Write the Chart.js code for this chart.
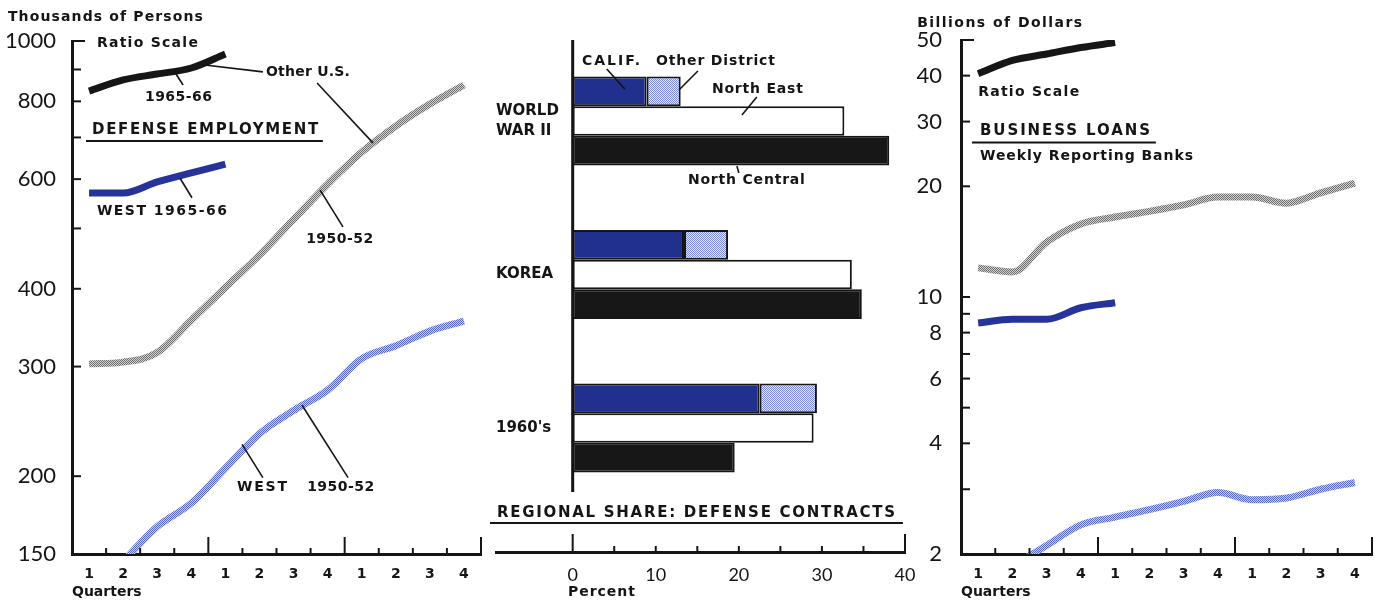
<!DOCTYPE html>
<html>
<head>
<meta charset="utf-8">
<script src="https://cdn.jsdelivr.net/npm/chart.js@4.4.0/dist/chart.umd.min.js"></script>
<style>
  html, body { margin: 0; padding: 0; background: #fff; }
  #wrap { position: relative; width: 1379px; height: 605px; }
  #wrap canvas { position: absolute; left: 0; top: 0; }
</style>
</head>
<body>
<div id="wrap">
  <canvas id="employment" width="1379" height="605"></canvas>
  <canvas id="contracts" width="1379" height="605"></canvas>
  <canvas id="loans" width="1379" height="605"></canvas>
</div>
<script>
// Quarters: three years on each time panel
const QUARTER_LABELS = ['1', '2', '3', '4', '1', '2', '3', '4', '1', '2', '3', '4'];
const QUARTER_BOUNDS = [1, 2, 3, 4, 5, 6, 7, 8, 9, 10, 11, 12];
const YEAR_BOUNDS = [4, 8, 12];

// Defense employment, thousands of persons (ratio scale)
const EMP_OTHER_1950 = [303, 305, 316, 356, 402, 453, 517, 589, 663, 730, 792, 850];
const EMP_WEST_1950 = [null, 146, 166, 181, 206, 234, 255, 275, 309, 324, 342, 355];
const EMP_OTHER_1965 = [831, 866, 885, 905, 953];
const EMP_WEST_1965 = [570, 570, 594, 614, 634];
const EMP_TICKS = [150, 200, 300, 400, 500, 600, 700, 800, 900, 1000];
const EMP_TICK_LABELS = [150, 200, 300, 400, 600, 800, 1000];

// Regional share of defense contracts, percent
const PERIODS = [['WORLD', 'WAR II'], 'KOREA', "1960's"];
const SHARE_CALIF = [8.9, 13.4, 22.5];
const SHARE_OTHER_DISTRICT = [4.1, 5.3, 6.9];
const SHARE_NORTH_EAST = [32.7, 33.6, 29.0];
const SHARE_NORTH_CENTRAL = [38.1, 34.8, 19.5];
const PCT_TICKS = [0, 5, 10, 15, 20, 25, 30, 35, 40];
const PCT_TICK_LABELS = [0, 10, 20, 30, 40];

// Business loans, weekly reporting banks, billions of dollars (ratio scale)
const LOAN_OTHER_1950 = [12.0, 11.7, 14.1, 15.8, 16.5, 17.1, 17.8, 18.7, 18.7, 18.0, 19.2, 20.4];
const LOAN_WEST_1950 = [null, 1.85, 2.11, 2.40, 2.52, 2.64, 2.78, 2.94, 2.81, 2.84, 3.0, 3.13];
const LOAN_OTHER_1965 = [40.5, 44.0, 45.8, 47.7, 49.2];
const LOAN_WEST_1965 = [8.5, 8.7, 8.7, 9.35, 9.65];
const LOAN_TICKS = [2, 3, 4, 5, 6, 7, 8, 9, 10, 20, 30, 40, 50];
const LOAN_TICK_LABELS = [2, 4, 6, 8, 10, 20, 30, 40, 50];

const INK = '#151515';
const LETTER_FONT = '"DejaVu Sans"';
const NUM_FONT = 'Lato';

Chart.defaults.font.family = LETTER_FONT;
Chart.defaults.color = INK;

// small checker patterns for the screened lines and bars
function stipple(dark, light) {
    const c = document.createElement('canvas');
    c.width = 2;
    c.height = 2;
    const g = c.getContext('2d');
    g.fillStyle = light;
    g.fillRect(0, 0, 2, 2);
    g.fillStyle = dark;
    g.fillRect(0, 0, 1, 1);
    g.fillRect(1, 1, 1, 1);
    return g.createPattern(c, 'repeat');
}

const GRAY_SCREEN = stipple('#6e6e6e', '#d2d2d2');
const BLUE_SCREEN = stipple('#5a6bc6', '#c4ccef');
const DISTRICT_SCREEN = stipple('#7e8dd2', '#e2e6f7');

// tick marks drawn inside the frame, as on the original
const axisMarks = {
    id: 'axisMarks',
    afterDraw(chart, args, opts) {
        const {ctx, chartArea: a, scales} = chart;
        ctx.save();
        ctx.strokeStyle = INK;
        ctx.lineWidth = 2;
        (opts.x || []).forEach(m => {
            const px = scales.x.getPixelForValue(m.value);
            ctx.beginPath();
            ctx.moveTo(px, a.bottom);
            ctx.lineTo(px, a.bottom - m.len);
            ctx.stroke();
        });
        (opts.y || []).forEach(m => {
            const py = scales.y.getPixelForValue(m.value);
            ctx.beginPath();
            ctx.moveTo(a.left, py);
            ctx.lineTo(a.left + m.len, py);
            ctx.stroke();
        });
        if (opts.stem) {
            const px = scales.x.getPixelForValue(opts.stem.x);
            ctx.lineWidth = 3;
            ctx.beginPath();
            ctx.moveTo(px, scales.y.getPixelForValue(opts.stem.from));
            ctx.lineTo(px, scales.y.getPixelForValue(opts.stem.to));
            ctx.stroke();
        }
        ctx.restore();
    }
};

// hand lettering and leader lines, placed in data units
const notes = {
    id: 'notes',
    afterDraw(chart, args, opts) {
        const {ctx, scales: {x, y}} = chart;
        ctx.save();
        ctx.strokeStyle = INK;
        ctx.fillStyle = INK;
        (opts.lines || []).forEach(l => {
            ctx.lineWidth = l.w || 1.6;
            ctx.beginPath();
            ctx.moveTo(x.getPixelForValue(l.from[0]), y.getPixelForValue(l.from[1]));
            ctx.lineTo(x.getPixelForValue(l.to[0]), y.getPixelForValue(l.to[1]));
            ctx.stroke();
        });
        ctx.textBaseline = 'middle';
        ctx.textAlign = 'left';
        (opts.labels || []).forEach(t => {
            const px = x.getPixelForValue(t.at[0]);
            const py = y.getPixelForValue(t.at[1]);
            ctx.font = 'bold ' + (t.size || 14) + 'px ' + LETTER_FONT;
            ctx.letterSpacing = '0px';
            const w = ctx.measureText(t.text).width;
            if (w > t.width) {
                ctx.save();
                ctx.translate(px, py);
                ctx.scale(t.width / w, 1);
                ctx.fillText(t.text, 0, 0);
                ctx.restore();
            } else {
                ctx.letterSpacing = ((t.width - w) / Math.max(1, t.text.length - 1)) + 'px';
                ctx.fillText(t.text, px, py);
            }
        });
        ctx.restore();
    }
};

function lineSet(values, color, width) {
    return {
        data: values.map((v, i) => ({x: i + 0.5, y: v})),
        borderColor: color,
        borderWidth: width,
        pointRadius: 0,
        cubicInterpolationMode: 'monotone',
        borderCapStyle: 'butt',
        clip: 0,
        fill: false
    };
}

function quarterAxis() {
    return {
        type: 'linear',
        min: 0,
        max: 12,
        grid: { display: false },
        border: { color: INK, width: 3 },
        afterBuildTicks: s => { s.ticks = QUARTER_LABELS.map((l, i) => ({value: i + 0.5})); },
        afterFit: s => { s.height = 51; },
        ticks: {
            autoSkip: false,
            maxRotation: 0,
            padding: 4,
            color: INK,
            font: { size: 14, weight: 'bold' },
            callback: (v, i) => QUARTER_LABELS[i]
        },
        title: {
            display: true,
            text: 'Quarters',
            align: 'start',
            color: INK,
            font: { size: 14, weight: 'bold' },
            padding: { top: 0, bottom: 4 }
        }
    };
}

function ratioAxis(min, max, ticks, labels, width, pad) {
    return {
        type: 'logarithmic',
        min: min,
        max: max,
        grid: { display: false },
        border: { color: INK, width: 3 },
        afterBuildTicks: s => { s.ticks = ticks.map(v => ({value: v})); },
        afterFit: s => { s.width = width; },
        ticks: {
            autoSkip: false,
            padding: pad,
            color: INK,
            font: { family: NUM_FONT, size: 22 },
            callback: v => labels.includes(v) ? String(v) : ''
        }
    };
}

function quarterMarks() {
    return QUARTER_BOUNDS.map(b => ({value: b, len: YEAR_BOUNDS.includes(b) ? 17 : 6}));
}

// Defense employment panel
function initEmploymentChart() {
    new Chart(document.getElementById('employment'), {
        type: 'line',
        data: {
            datasets: [
                lineSet(EMP_OTHER_1950, GRAY_SCREEN, 7),
                lineSet(EMP_WEST_1950, BLUE_SCREEN, 7),
                lineSet(EMP_OTHER_1965, '#161616', 7),
                lineSet(EMP_WEST_1965, '#27339b', 7)
            ]
        },
        options: {
            responsive: false,
            animation: false,
            layout: { padding: { left: 0, right: 898, top: 41, bottom: 0 } },
            plugins: {
                legend: { display: false },
                tooltip: { enabled: false },
                axisMarks: {
                    x: quarterMarks(),
                    y: EMP_TICKS.filter(v => v > 150).map(v => ({value: v, len: v === 1000 ? 13 : 9}))
                },
                notes: {
                    labels: [
                        {text: 'Thousands of Persons', at: [-1.88, 1093], width: 195},
                        {text: 'Ratio Scale', at: [0.73, 993], width: 101},
                        {text: 'Other U.S.', at: [5.69, 889], width: 84},
                        {text: '1965-66', at: [2.14, 813], width: 67},
                        {text: 'DEFENSE EMPLOYMENT', at: [0.59, 719], width: 226, size: 15},
                        {text: 'WEST 1965-66', at: [0.73, 533], width: 130},
                        {text: '1950-52', at: [6.87, 481], width: 67},
                        {text: 'WEST', at: [4.84, 192], width: 50},
                        {text: '1950-52', at: [6.90, 192], width: 67}
                    ],
                    lines: [
                        {from: [3.90, 915], to: [5.60, 892]},
                        {from: [7.19, 856], to: [8.83, 686]},
                        {from: [3.05, 885], to: [3.26, 850]},
                        {from: [0.41, 691], to: [7.36, 691], w: 2},
                        {from: [3.17, 602], to: [3.52, 560]},
                        {from: [7.28, 576], to: [7.95, 503]},
                        {from: [4.99, 225], to: [5.60, 199]},
                        {from: [6.75, 260], to: [8.10, 199]}
                    ]
                }
            },
            scales: {
                x: quarterAxis(),
                y: ratioAxis(150, 1000, EMP_TICKS, EMP_TICK_LABELS, 72, 8)
            }
        },
        plugins: [axisMarks, notes]
    });
}

// Regional share panel
function barSet(label, values, stack, fillColor) {
    return {
        label: label,
        data: values.map((v, i) => ({x: v, y: i + 1})),
        stack: stack,
        backgroundColor: fillColor,
        borderColor: INK,
        borderWidth: 2,
        borderSkipped: false,
        categoryPercentage: 0.58,
        barPercentage: 1
    };
}

function initContractsChart() {
    new Chart(document.getElementById('contracts'), {
        type: 'bar',
        data: {
            datasets: [
                barSet('Calif.', SHARE_CALIF, 'west', '#22308d'),
                barSet('Other District', SHARE_OTHER_DISTRICT, 'west', DISTRICT_SCREEN),
                barSet('North East', SHARE_NORTH_EAST, 'ne', '#ffffff'),
                barSet('North Central', SHARE_NORTH_CENTRAL, 'nc', '#171717')
            ]
        },
        options: {
            indexAxis: 'y',
            responsive: false,
            animation: false,
            layout: { padding: { left: 496, right: 474, top: 40, bottom: 0 } },
            plugins: {
                legend: { display: false },
                tooltip: { enabled: false },
                axisMarks: {
                    x: PCT_TICKS.map(v => ({value: v, len: (v === 0 || v === 40) ? 18 : 6})),
                    stem: {x: 0, from: 0.472, to: 3.417}
                },
                notes: {
                    labels: [
                        {text: 'CALIF.', at: [1.12, 0.609], width: 58},
                        {text: 'Other District', at: [10.02, 0.609], width: 119},
                        {text: 'North East', at: [16.76, 0.792], width: 91},
                        {text: 'North Central', at: [13.87, 1.384], width: 117},
                        {text: 'REGIONAL SHARE: DEFENSE CONTRACTS', at: [-9.11, 3.554], width: 398, size: 15},
                        {text: 'Percent', at: [-0.57, 4.068], width: 67}
                    ],
                    lines: [
                        {from: [4.1, 0.661], to: [6.29, 0.792]},
                        {from: [15.07, 0.674], to: [12.79, 0.798]},
                        {from: [22.17, 0.844], to: [20.37, 0.961]},
                        {from: [19.77, 1.293], to: [20.0, 1.339]},
                        {from: [-9.95, 3.619], to: [39.75, 3.619], w: 2}
                    ]
                }
            },
            scales: {
                x: {
                    type: 'linear',
                    min: -9.23,
                    max: 40,
                    stacked: true,
                    grid: { display: false },
                    border: { color: INK, width: 3 },
                    afterBuildTicks: s => { s.ticks = PCT_TICKS.map(v => ({value: v})); },
                    afterFit: s => { s.height = 53; },
                    ticks: {
                        autoSkip: false,
                        maxRotation: 0,
                        padding: 4,
                        color: INK,
                        font: { family: NUM_FONT, size: 18 },
                        callback: v => PCT_TICK_LABELS.includes(v) ? String(v) : ''
                    }
                },
                y: {
                    type: 'linear',
                    reverse: true,
                    offset: false,
                    min: 0.472,
                    max: 3.808,
                    stacked: true,
                    grid: { display: false },
                    border: { display: false },
                    afterBuildTicks: s => { s.ticks = PERIODS.map((p, i) => ({value: i + 1})); },
                    afterFit: s => { s.width = 0; },
                    ticks: {
                        mirror: true,
                        padding: 0,
                        autoSkip: false,
                        color: INK,
                        font: { size: 15, weight: 'bold', lineHeight: 1.3 },
                        callback: (v, i) => PERIODS[i]
                    }
                }
            }
        },
        plugins: [axisMarks, notes]
    });
}

// Business loans panel
function initLoansChart() {
    new Chart(document.getElementById('loans'), {
        type: 'line',
        data: {
            datasets: [
                lineSet(LOAN_OTHER_1950, GRAY_SCREEN, 7),
                lineSet(LOAN_WEST_1950, BLUE_SCREEN, 7),
                lineSet(LOAN_OTHER_1965, '#161616', 7),
                lineSet(LOAN_WEST_1965, '#27339b', 7)
            ]
        },
        options: {
            responsive: false,
            animation: false,
            layout: { padding: { left: 901, right: 7, top: 40, bottom: 0 } },
            plugins: {
                legend: { display: false },
                tooltip: { enabled: false },
                axisMarks: {
                    x: quarterMarks(),
                    y: LOAN_TICKS.filter(v => v > 2).map(v => ({value: v, len: v === 50 ? 13 : 9}))
                },
                notes: {
                    labels: [
                        {text: 'Billions of Dollars', at: [-1.28, 55.6], width: 165},
                        {text: 'Ratio Scale', at: [0.50, 36.1], width: 101},
                        {text: 'BUSINESS LOANS', at: [0.555, 28.3], width: 170, size: 15},
                        {text: 'Weekly Reporting Banks', at: [0.555, 24.2], width: 213}
                    ],
                    lines: [
                        {from: [0.32, 26.3], to: [5.69, 26.3], w: 2}
                    ]
                }
            },
            scales: {
                x: quarterAxis(),
                y: ratioAxis(2, 50, LOAN_TICKS, LOAN_TICK_LABELS, 60, 11)
            }
        },
        plugins: [axisMarks, notes]
    });
}

initEmploymentChart();
initContractsChart();
initLoansChart();
</script>
</body>
</html>
